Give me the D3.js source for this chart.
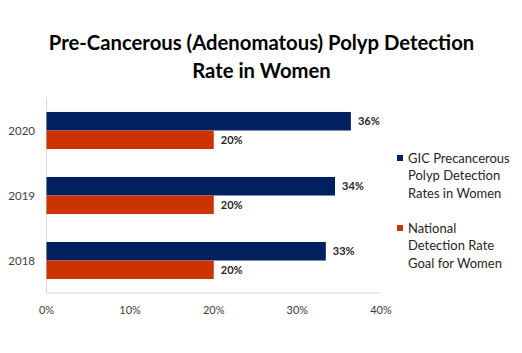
<!DOCTYPE html>
<html>
<head>
<meta charset="utf-8">
<script src="https://cdn.jsdelivr.net/npm/d3@7"></script>
<style>
  body { margin: 0; background: #fff; }
  svg { font-family: Lato, "Open Sans", sans-serif; }
</style>
</head>
<body>
<svg id="chart" width="522" height="353"></svg>
<script>
// data
var years = ["2020", "2019", "2018"];
var gicRates = [0.364, 0.345, 0.334];
var goalRates = [0.2, 0.2, 0.2];
var gicLabels = ["36%", "34%", "33%"];
var goalLabels = ["20%", "20%", "20%"];
var xTicks = [0, 0.1, 0.2, 0.3, 0.4];
var seriesNames = [
  ["GIC Precancerous", "Polyp Detection", "Rates in Women"],
  ["National", "Detection Rate", "Goal for Women"]
];
var colors = ["#002060", "#CC3300"];

var svg = d3.select("#chart");

var x = d3.scaleLinear().domain([0, 0.4]).range([46.5, 381]);
var y = d3.scaleBand().domain(years).range([98, 293]).paddingInner(0.43).paddingOuter(0.215);
var barH = y.bandwidth() / 2;

// title
var title = svg.append("text")
  .attr("text-anchor", "middle")
  .attr("font-weight", "bold")
  .attr("font-size", "20.3px")
  .attr("fill", "#000");
title.append("tspan").attr("x", 261.5).attr("y", 50).text("Pre-Cancerous (Adenomatous) Polyp Detection");
title.append("tspan").attr("x", 261.5).attr("y", 78).text("Rate in Women");

// axes lines
svg.append("line")
  .attr("x1", x(0)).attr("x2", x(0))
  .attr("y1", 98).attr("y2", 293)
  .attr("stroke", "#d9d9d9");
svg.append("line")
  .attr("x1", x(0)).attr("x2", x(0.4))
  .attr("y1", 293).attr("y2", 293)
  .attr("stroke", "#d9d9d9");

// x tick labels
svg.selectAll(".xt")
  .data(xTicks)
  .enter()
  .append("text")
  .attr("class", "xt")
  .attr("x", (d) => x(d))
  .attr("y", 314)
  .attr("text-anchor", "middle")
  .attr("font-size", "11px")
  .attr("fill", "#404040")
  .text(d3.format(".0%"));

// year labels
svg.selectAll(".yt")
  .data(years)
  .enter()
  .append("text")
  .attr("class", "yt")
  .attr("x", 35)
  .attr("y", (d) => y(d) + barH + 4)
  .attr("text-anchor", "end")
  .attr("font-size", "11.5px")
  .attr("fill", "#404040")
  .text((d) => d);

// bars
var rows = years.map((yr, i) => ({ year: yr, gic: gicRates[i], goal: goalRates[i], gl: gicLabels[i], ol: goalLabels[i] }));

svg.selectAll(".gic")
  .data(rows)
  .enter()
  .append("rect")
  .attr("class", "gic")
  .attr("x", x(0))
  .attr("y", (d) => y(d.year))
  .attr("width", (d) => x(d.gic) - x(0))
  .attr("height", barH)
  .attr("fill", colors[0]);

svg.selectAll(".goal")
  .data(rows)
  .enter()
  .append("rect")
  .attr("class", "goal")
  .attr("x", x(0))
  .attr("y", (d) => y(d.year) + barH)
  .attr("width", (d) => x(d.goal) - x(0))
  .attr("height", barH)
  .attr("fill", colors[1]);

// value labels
svg.selectAll(".gl")
  .data(rows)
  .enter()
  .append("text")
  .attr("class", "gl")
  .attr("x", (d) => x(d.gic) + 7)
  .attr("y", (d) => y(d.year) + barH / 2 + 4)
  .attr("font-size", "11px")
  .attr("font-weight", "bold")
  .attr("fill", "#262626")
  .text((d) => d.gl);

svg.selectAll(".ol")
  .data(rows)
  .enter()
  .append("text")
  .attr("class", "ol")
  .attr("x", (d) => x(d.goal) + 7)
  .attr("y", (d) => y(d.year) + barH * 1.5 + 4)
  .attr("font-size", "11px")
  .attr("font-weight", "bold")
  .attr("fill", "#262626")
  .text((d) => d.ol);

// legend
var legend = svg.selectAll(".leg")
  .data(seriesNames)
  .enter()
  .append("g")
  .attr("class", "leg")
  .attr("transform", (d, i) => "translate(397," + (155 + i * 70) + ")");

legend.append("rect")
  .attr("width", 6).attr("height", 6)
  .attr("fill", (d, i) => colors[i]);

legend.append("text")
  .attr("font-size", "13px")
  .attr("fill", "#262626")
  .selectAll("tspan")
  .data((d) => d)
  .enter()
  .append("tspan")
  .attr("x", 11)
  .attr("y", (d, j) => 7.5 + j * 17.5)
  .text((d) => d);
</script>
</body>
</html>
